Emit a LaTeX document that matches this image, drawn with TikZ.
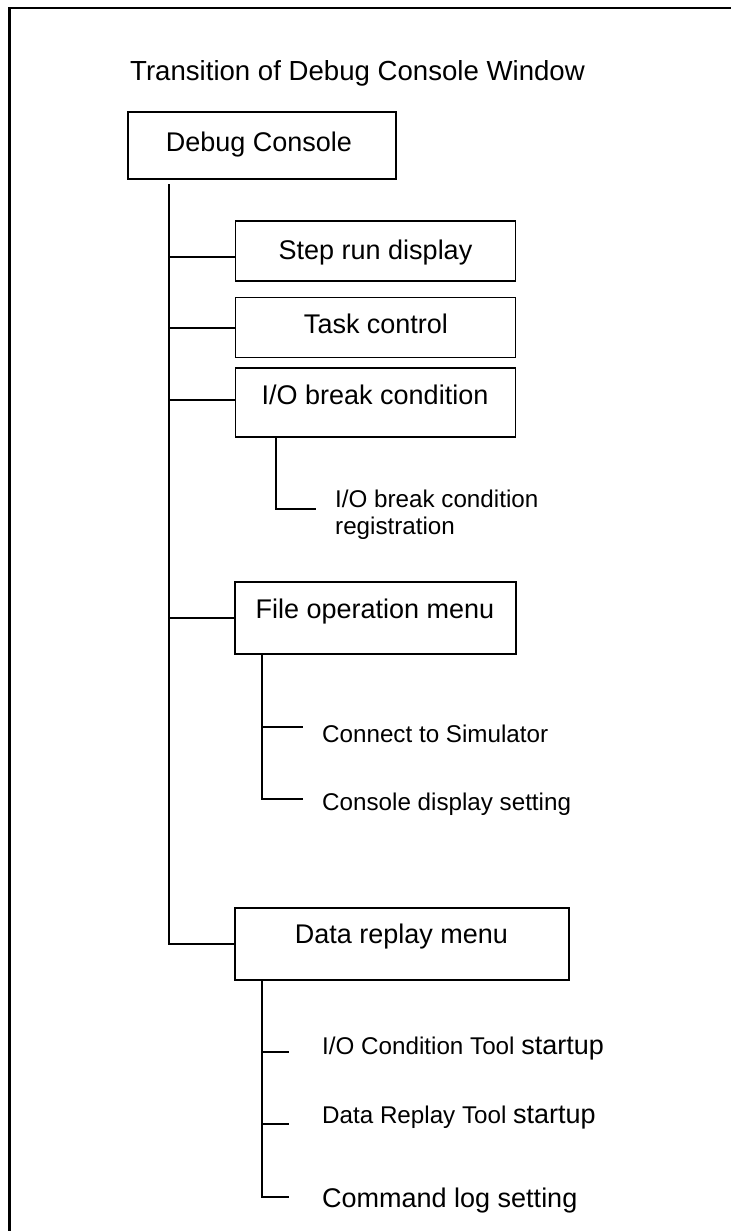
\documentclass[tikz,border=0pt]{standalone}
\usepackage{fontspec}
\setmainfont{Liberation Sans}
\newcommand{\bigsz}{\fontsize{27}{30}\selectfont}
\newcommand{\smallsz}{\fontsize{24.2}{27.3}\selectfont}
\begin{document}
\begin{tikzpicture}[x=1pt,y=-1pt,
  box/.style={draw, line width=1.6pt, inner sep=0pt},
  conn/.style={line width=1.4pt},
  bigtext/.style={font=\bigsz, inner sep=0pt},
  smalltext/.style={font=\smallsz, inner sep=0pt},
  titletext/.style={font=\fontsize{27.6}{31}\selectfont, inner sep=0pt}]
\useasboundingbox (0,0) rectangle (731,1231);
% frame
\draw[line width=2.5pt] (9.5,1231) -- (9.5,8) -- (731,8);
% title
\node[titletext, anchor=base] (title) at (357.5,81) {Transition of Debug Console Window};
% boxes
\node[box, minimum width=268, minimum height=67] (dc) at (262,145.5) {};
\node[bigtext, anchor=base] (dct) at (259,151) {Debug Console};
\node[box, minimum width=280, minimum height=60] (step) at (375.5,251) {};
\node[bigtext, anchor=base] (stept) at (375.5,259) {Step run display};
\node[box, minimum width=280, minimum height=60] (task) at (375.5,327.5) {};
\node[bigtext, anchor=base] (taskt) at (376,333) {Task control};
\node[box, minimum width=280, minimum height=69] (io) at (375.5,402.5) {};
\node[bigtext, anchor=base] (iot) at (375,404) {I/O break condition};
\node[box, minimum width=281, minimum height=72] (file) at (375.5,618) {};
\node[bigtext, anchor=base] (filet) at (375,618) {File operation menu};
\node[box, minimum width=334, minimum height=72] (data) at (402,944) {};
\node[bigtext, anchor=base] (datat) at (401.5,943) {Data replay menu};
% sub items
\node[smalltext, anchor=base west] (ioreg1) at (335,507) {I/O break condition};
\node[smalltext, anchor=base west] (ioreg2) at (335,534) {registration};
\node[smalltext, anchor=base west] (conn) at (322,742) {Connect to Simulator};
\node[smalltext, anchor=base west] (cons) at (322,810) {Console display setting};
\node[smalltext, anchor=base west] (ioct) at (322,1054) {I/O Condition Tool {\bigsz startup}};
\node[smalltext, anchor=base west] (drt) at (322,1123) {Data Replay Tool {\bigsz startup}};
\node[bigtext, anchor=base west] (cmd) at (322,1207) {Command log setting};
% trunk coordinates
\coordinate (t0) at (169,184);
\coordinate (stepb) at (235,257);
\coordinate (taskb) at (235,328);
\coordinate (iob) at (235,400);
\draw[conn] (t0) |- (data.west);
\draw[conn] (t0 |- stepb) -- (stepb);
\draw[conn] (t0 |- taskb) -- (taskb);
\draw[conn] (t0 |- iob) -- (iob);
\draw[conn] (t0 |- file.west) -- (file.west);
% sub connectors
\coordinate (ios) at (276,437);
\coordinate (ioe) at (316,509);
\draw[conn] (ios) |- (ioe);
\coordinate (fs) at (262,654);
\coordinate (fe1) at (303,727);
\coordinate (fe2) at (303,799);
\draw[conn] (fs) |- (fe2);
\draw[conn] (fs |- fe1) -- (fe1);
\coordinate (ds) at (262,980);
\coordinate (de1) at (289,1052);
\coordinate (de2) at (289,1124);
\coordinate (de3) at (289,1197);
\draw[conn] (ds) |- (de3);
\draw[conn] (ds |- de1) -- (de1);
\draw[conn] (ds |- de2) -- (de2);
\end{tikzpicture}
\end{document}
